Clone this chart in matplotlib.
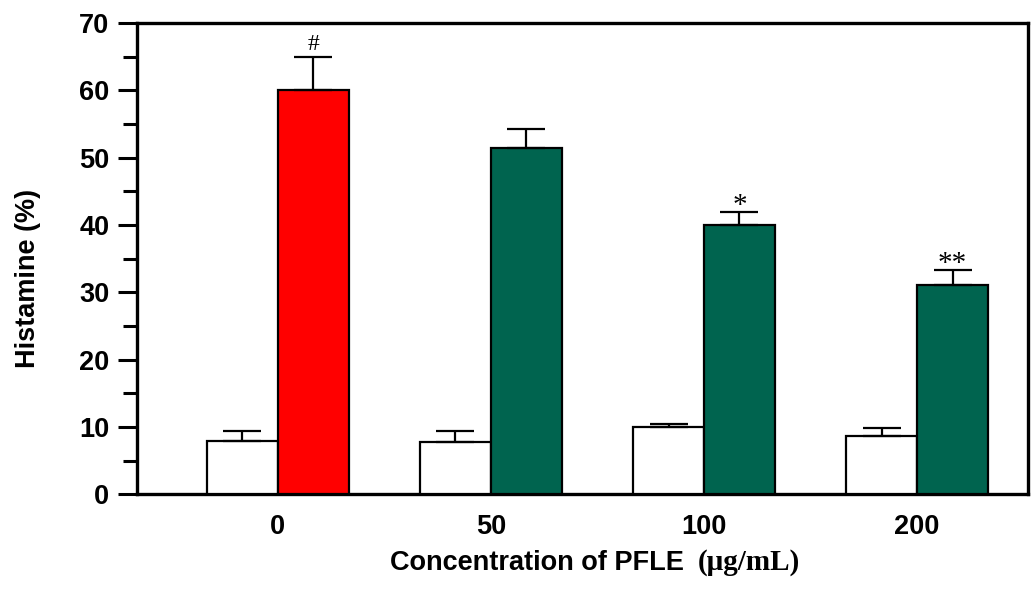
import numpy as np
import matplotlib
matplotlib.use('Agg')
import matplotlib.pyplot as plt
from matplotlib.ticker import MultipleLocator

# values
concentrations = ['0', '50', '100', '200']
control = [7.9, 7.7, 10.0, 8.6]
control_err = [1.5, 1.7, 0.5, 1.3]
treated = [60.0, 51.5, 40.0, 31.1]
treated_err = [5.0, 2.8, 1.9, 2.2]
marks = ['#', '', '*', '**']
treated_colors = ['#ff0000', '#00644f', '#00644f', '#00644f']

plt.rcParams['font.family'] = ['Liberation Sans', 'DejaVu Sans']

fig = plt.figure(figsize=(10.31, 5.94), dpi=100)
ax = fig.add_axes([0.133, 0.168, 0.864, 0.793])

x = np.arange(len(concentrations))
w = 0.333

ax.bar(x - w/2, control, width=w, color='white', edgecolor='black', linewidth=1.6,
       yerr=[np.zeros(len(control)), control_err], capsize=13.5,
       error_kw=dict(elinewidth=1.6, capthick=1.6, ecolor='black'), zorder=3)
ax.bar(x + w/2, treated, width=w, color=treated_colors, edgecolor='black', linewidth=1.6,
       yerr=[np.zeros(len(treated)), treated_err], capsize=13.5,
       error_kw=dict(elinewidth=1.6, capthick=1.6, ecolor='black'), zorder=3)

# significance marks above the error bars
for i, m in enumerate(marks):
    if not m:
        continue
    top = treated[i] + treated_err[i]
    if m == '#':
        ax.annotate(m, (x[i] + w/2, top), xytext=(0, 1), textcoords='offset points',
                    ha='center', va='bottom', fontsize=17, family='Liberation Serif')
    else:
        ax.annotate(m, (x[i] + w/2, top), xytext=(0, -5), textcoords='offset points',
                    ha='center', va='bottom', fontsize=21, family='Liberation Serif')

ax.set_xlim(-0.66, 3.52)
ax.set_ylim(0, 70)
ax.set_xticks(x)
ax.set_xticklabels(concentrations, fontsize=19.5, fontweight='bold')
ax.yaxis.set_major_locator(MultipleLocator(10))
ax.yaxis.set_minor_locator(MultipleLocator(5))
for lab in ax.get_yticklabels():
    lab.set_fontsize(19.5)
    lab.set_fontweight('bold')

ax.tick_params(axis='x', length=0, pad=14)
ax.tick_params(axis='y', which='major', direction='out', length=14, width=2.2, pad=6)
ax.tick_params(axis='y', which='minor', direction='out', length=10, width=2.2)

for s in ax.spines.values():
    s.set_linewidth(2.4)

fig.text(28/1031, 1 - 278/594, 'Histamine (%)', rotation=90, ha='center', va='center',
         fontsize=19.5, fontweight='bold')
fig.text(684/1031, 1 - 563/594, 'Concentration of PFLE', ha='right', va='center',
         fontsize=19.5, fontweight='bold')
fig.text(698/1031, 1 - 563/594, '(\u03bcg/mL)', ha='left', va='center',
         fontsize=21, fontweight='bold', family='Liberation Serif')

fig.savefig('out.png', dpi=100)
